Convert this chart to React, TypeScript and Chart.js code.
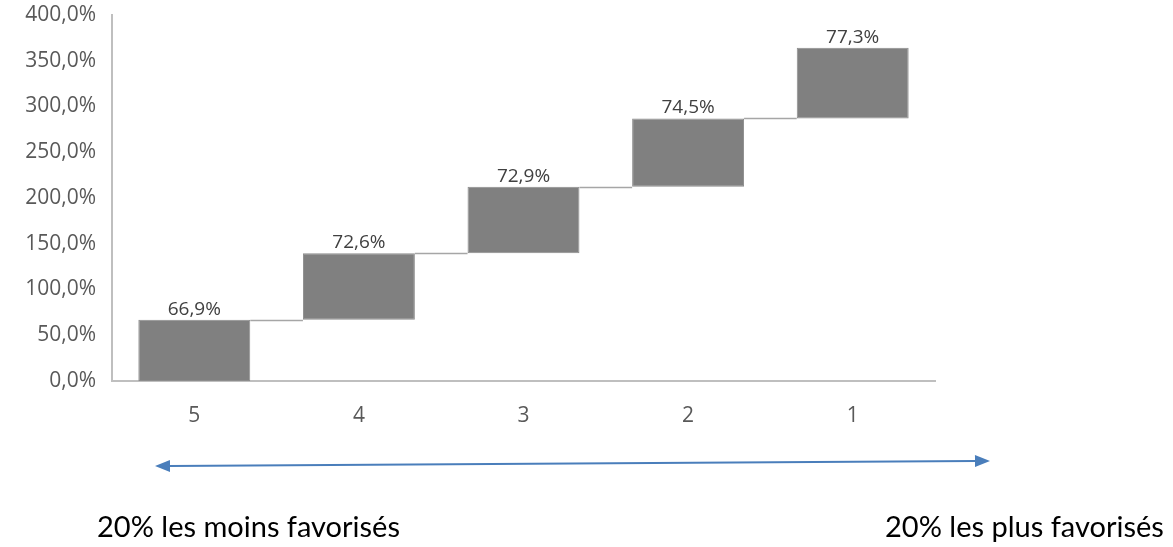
import React, { useEffect, useRef } from "react";
import { Chart, registerables } from "chart.js";

Chart.register(...registerables);

const categories = ["5", "4", "3", "2", "1"];
const values = [66.9, 72.6, 72.9, 74.5, 77.3];
const yTicksMin = 0;
const yTicksMax = 400;
const yTicksStep = 50;
const leftCaption = "20% les moins favorisés";
const rightCaption = "20% les plus favorisés";

const fmt = (v: number) => v.toFixed(1).replace(".", ",") + "%";

export default function App() {
  const ref = useRef<HTMLCanvasElement | null>(null);

  useEffect(() => {
    if (!ref.current) return;
    const cum: number[] = [];
    let acc = 0;
    values.forEach((v) => {
      cum.push(acc + v);
      acc += v;
    });
    const floating = values.map((v, i) => [cum[i] - v, cum[i]]);

    const waterfallPlugin = {
      id: "waterfallExtras",
      afterDatasetsDraw(chart: any) {
        const ctx = chart.ctx;
        const meta = chart.getDatasetMeta(0);
        const y = chart.scales.y;
        ctx.save();
        ctx.strokeStyle = "#a6a6a6";
        ctx.lineWidth = 1.5;
        for (let i = 0; i < meta.data.length - 1; i++) {
          const a = meta.data[i];
          const b = meta.data[i + 1];
          const py = Math.round(y.getPixelForValue(cum[i])) + 0.5;
          ctx.beginPath();
          ctx.moveTo(a.x + a.width / 2, py);
          ctx.lineTo(b.x - b.width / 2, py);
          ctx.stroke();
        }
        ctx.fillStyle = "#404040";
        ctx.font = "19px 'Open Sans'";
        ctx.textAlign = "center";
        ctx.textBaseline = "alphabetic";
        meta.data.forEach((bar: any, i: number) => {
          const top = y.getPixelForValue(cum[i]);
          ctx.fillText(fmt(values[i]), bar.x, top - 5);
        });
        ctx.restore();
      },
      afterDraw(chart: any) {
        const ctx = chart.ctx;
        ctx.save();
        const x1 = 155, y1 = 466, x2 = 990, y2 = 461;
        const col = "#4a7ebb";
        ctx.strokeStyle = col;
        ctx.fillStyle = col;
        ctx.lineWidth = 2;
        const ang = Math.atan2(y2 - y1, x2 - x1);
        const hl = 15, hw = 6;
        ctx.beginPath();
        ctx.moveTo(x1 + hl * Math.cos(ang), y1 + hl * Math.sin(ang));
        ctx.lineTo(x2 - hl * Math.cos(ang), y2 - hl * Math.sin(ang));
        ctx.stroke();
        const head = (tx: number, ty: number, dir: number) => {
          const a = ang + (dir < 0 ? Math.PI : 0);
          ctx.beginPath();
          ctx.moveTo(tx, ty);
          ctx.lineTo(tx - hl * Math.cos(a) + hw * Math.sin(a), ty - hl * Math.sin(a) - hw * Math.cos(a));
          ctx.lineTo(tx - hl * Math.cos(a) - hw * Math.sin(a), ty - hl * Math.sin(a) + hw * Math.cos(a));
          ctx.closePath();
          ctx.fill();
        };
        head(x2, y2, 1);
        head(x1, y1, -1);
        ctx.fillStyle = "#000000";
        ctx.font = "29px Lato";
        ctx.textAlign = "left";
        ctx.textBaseline = "alphabetic";
        ctx.fillText(leftCaption, 97, 537);
        ctx.fillText(rightCaption, 885, 537);
        ctx.restore();
      },
    };

    const chart = new Chart(ref.current, {
      type: "bar",
      data: {
        labels: categories,
        datasets: [
          {
            data: floating as any,
            backgroundColor: "#808080",
            borderColor: "#8c8c8c",
            borderWidth: 1,
            borderSkipped: false,
            barPercentage: 0.68,
            categoryPercentage: 1,
          },
        ],
      },
      options: {
        animation: false,
        responsive: true,
        maintainAspectRatio: false,
        devicePixelRatio: 1,
        layout: { padding: { top: 15, right: 238, bottom: 0, left: 0 } },
        plugins: {
          legend: { display: false },
          tooltip: { enabled: false },
          title: { display: false },
        },
        scales: {
          x: {
            grid: { display: false, drawTicks: false },
            border: { display: true, color: "#bfbfbf", width: 2 },
            ticks: {
              color: "#595959",
              font: { family: "'Open Sans'", size: 21 },
              padding: 22,
            },
            afterFit: (s: any) => {
              s.height = 166;
              s.paddingLeft = 0;
              s.paddingRight = 0;
            },
          },
          y: {
            min: yTicksMin,
            max: yTicksMax,
            grid: { display: false, drawTicks: false },
            border: { display: true, color: "#bfbfbf", width: 2 },
            ticks: {
              stepSize: yTicksStep,
              color: "#595959",
              font: { family: "'Open Sans'", size: 21 },
              padding: 16,
              callback: (v: any) => fmt(Number(v)),
            },
            afterFit: (s: any) => {
              s.width = 112;
              s.paddingTop = 0;
              s.paddingBottom = 0;
            },
          },
        },
      },
      plugins: [waterfallPlugin],
    });
    return () => chart.destroy();
  }, []);

  return (
    <div style={{ position: "absolute", left: 0, top: 0, width: 1173, height: 547, background: "#ffffff" }}>
      <canvas ref={ref} />
    </div>
  );
}
